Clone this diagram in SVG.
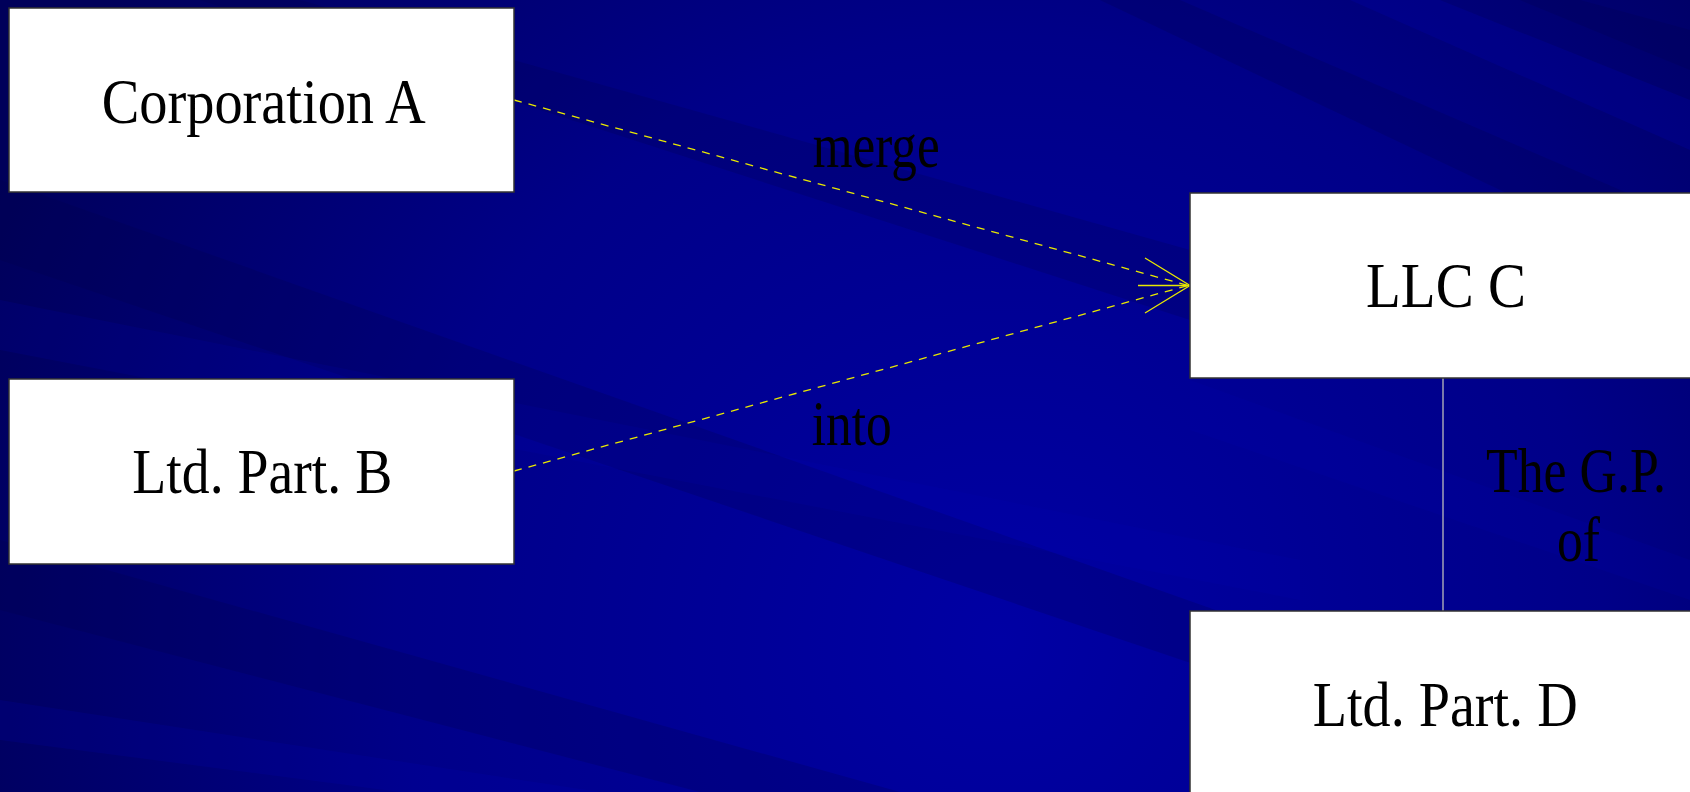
<svg xmlns="http://www.w3.org/2000/svg" width="1690" height="792" viewBox="0 0 1690 792">
<defs>
<style>
.box{fill:#ffffff;stroke:#333333;stroke-width:1.5}
.lbl{font-family:"Liberation Serif","Times New Roman",serif;font-size:64px;fill:#000000}
.edge{stroke:#e8e800;stroke-width:1.3;fill:none;stroke-dasharray:8 7}
.solid{stroke:#e8e800;stroke-width:1.3;fill:none}
</style>
<radialGradient id="bg" cx="1000" cy="640" r="1100" gradientUnits="userSpaceOnUse">
<stop offset="0" stop-color="#0000a4"/>
<stop offset="0.55" stop-color="#000088"/>
<stop offset="1" stop-color="#00005a"/>
</radialGradient>
</defs>
<rect x="0" y="0" width="1690" height="792" fill="url(#bg)"/>
<g id="streaks">
<polygon points="300,0 1190,250 1190,320 200,0" fill="#000048" opacity="0.2"/>
<polygon points="0,180 1300,640 1300,700 0,260" fill="#000048" opacity="0.22"/>
<polygon points="0,300 1300,560 1300,600 0,350" fill="#0000b8" opacity="0.14"/>
<polygon points="0,540 900,792 700,792 0,610" fill="#000048" opacity="0.22"/>
<polygon points="0,700 600,792 400,792 0,740" fill="#0000b8" opacity="0.16"/>
<polygon points="1180,0 1690,220 1690,280 1100,0" fill="#000048" opacity="0.22"/>
<polygon points="1350,0 1690,150 1690,100 1440,0" fill="#0000c0" opacity="0.2"/>
<polygon points="1520,0 1690,70 1690,30 1580,0" fill="#000050" opacity="0.25"/>
<polygon points="1190,380 1690,560 1690,600 1190,430" fill="#0000c0" opacity="0.1"/>
</g>
<g id="connectors">
<line class="edge" x1="514" y1="100" x2="1188" y2="285.5"/>
<line class="edge" x1="514" y1="471" x2="1188" y2="285.5"/>
<line class="solid" x1="1138" y1="285.5" x2="1190" y2="285.5"/>
<polyline class="solid" points="1145,258 1190,285.5 1145,313"/>
<line x1="1443" y1="378" x2="1443" y2="611" stroke="#f2f2c8" stroke-width="1"/>
<text class="lbl" x="812.7" y="166.7" textLength="127" lengthAdjust="spacingAndGlyphs">merge</text>
<text class="lbl" x="811.7" y="445" textLength="80" lengthAdjust="spacingAndGlyphs">into</text>
<text class="lbl" x="1486" y="492.3" textLength="180" lengthAdjust="spacingAndGlyphs">The G.P.</text>
<text class="lbl" x="1557" y="560.7" textLength="43" lengthAdjust="spacingAndGlyphs">of</text>
</g>
<g id="node-corporation-a">
<rect class="box" x="9" y="8" width="505" height="184"/>
<text class="lbl" x="101.7" y="123" textLength="324" lengthAdjust="spacingAndGlyphs">Corporation A</text>
</g>
<g id="node-ltd-part-b">
<rect class="box" x="9" y="379" width="505" height="185"/>
<text class="lbl" x="132.3" y="493" textLength="260" lengthAdjust="spacingAndGlyphs">Ltd. Part. B</text>
</g>
<g id="node-llc-c">
<rect class="box" x="1190" y="193" width="510" height="185"/>
<text class="lbl" x="1366" y="306.7" textLength="160" lengthAdjust="spacingAndGlyphs">LLC C</text>
</g>
<g id="node-ltd-part-d">
<rect class="box" x="1190" y="611" width="510" height="190"/>
<text class="lbl" x="1312.7" y="725.7" textLength="265" lengthAdjust="spacingAndGlyphs">Ltd. Part. D</text>
</g>
</svg>
